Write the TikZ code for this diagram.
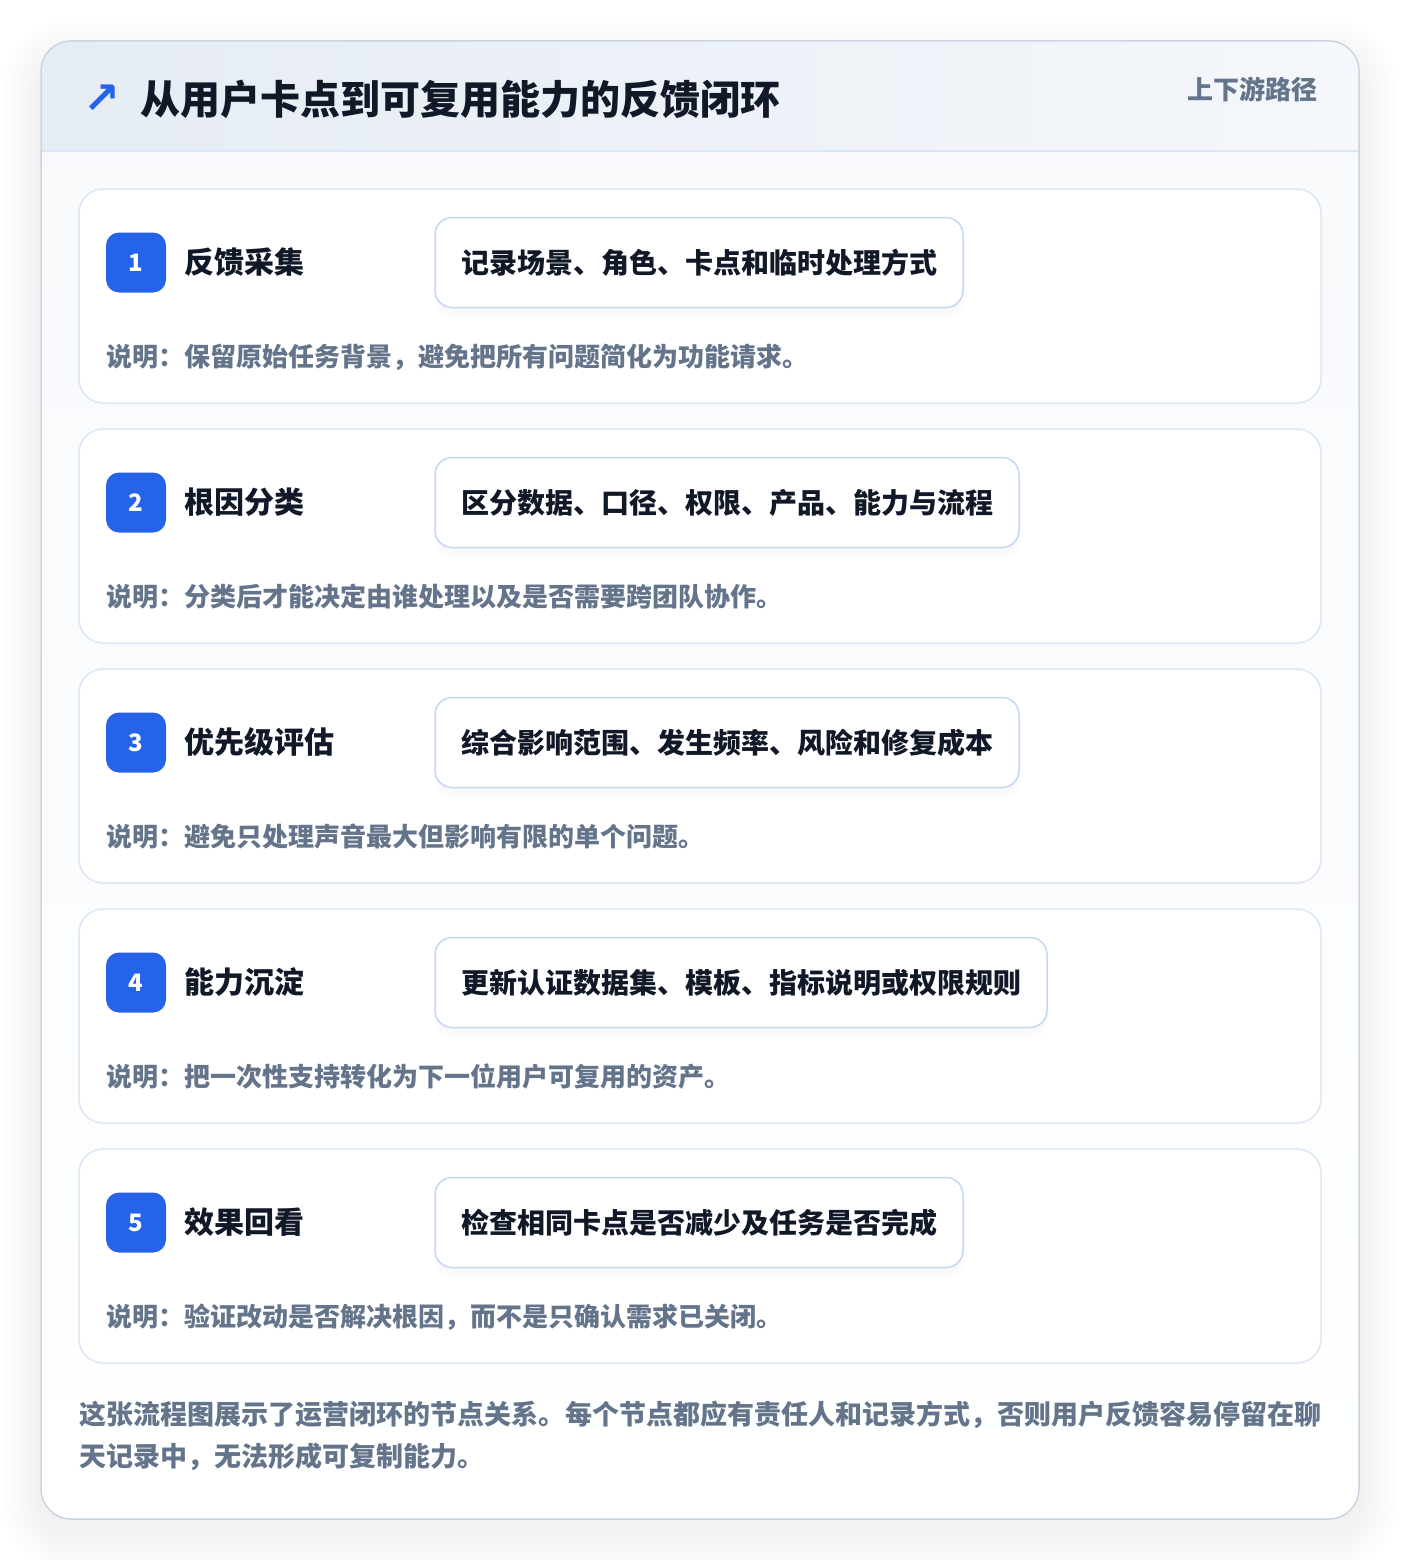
\documentclass[tikz,border=0pt]{standalone}
\usepackage{fontspec}
\setmainfont{Noto Sans CJK SC}
\newfontfamily\symfont{DejaVu Sans}
\usetikzlibrary{shapes, calc, positioning, shadows}

\definecolor{inkdark}{HTML}{111827}
\definecolor{inkgray}{HTML}{64748B}
\definecolor{badgeblue}{HTML}{2563EB}
\definecolor{cardline}{HTML}{DCE7F5}
\definecolor{pillline}{HTML}{C2D7F2}
\definecolor{panelline}{HTML}{CBD5E1}
\definecolor{bodybg}{HTML}{F7F9FC}
\definecolor{headleft}{HTML}{E6ECF4}
\definecolor{headright}{HTML}{F4F7FB}

\tikzset{
    panel/.style={
           rectangle,
           rounded corners=30pt,
           minimum width=1318pt,
           minimum height=1478pt,
           outer sep=0pt,
           },
    card/.style={
           rectangle,
           rounded corners=24pt,
           draw=cardline, line width=1.5pt,
           fill=white,
           minimum width=1242pt,
           minimum height=214pt,
           outer sep=0pt,
           },
    badge/.style={
           rectangle,
           rounded corners=13pt,
           fill=badgeblue,
           text=white,
           minimum width=60pt,
           minimum height=60pt,
           outer sep=0pt,
           font=\fontsize{24}{24}\selectfont\bfseries,
           },
    steptitle/.style={
           inner sep=0pt,
           text=inkdark,
           font=\fontsize{30}{30}\selectfont\bfseries,
           },
    pill/.style={
           rectangle,
           rounded corners=17pt,
           draw=pillline, line width=1.5pt,
           fill=white,
           drop shadow={opacity=0.015, shadow xshift=0pt, shadow yshift=-4pt},
           drop shadow={opacity=0.015, shadow xshift=0pt, shadow yshift=-8pt},
           drop shadow={opacity=0.015, shadow xshift=0pt, shadow yshift=-12pt},
           minimum height=90pt,
           inner xsep=26pt,
           outer sep=0pt,
           text=inkdark,
           font=\fontsize{28}{28}\selectfont\bfseries,
           },
    note/.style={
           inner sep=0pt,
           text=inkgray,
           font=\fontsize{26}{26}\selectfont\bfseries,
           },
}

\begin{document}
\begin{tikzpicture}[x=1pt, y=1pt, node distance=26pt]

 \useasboundingbox (0,0) rectangle (1400,-1560);
 \fill[white] (0,0) rectangle (1400,-1560);

 % soft shadow under the panel
 \foreach \s in {3,6,...,39} {
  \pgfmathsetmacro{\rr}{30+\s}
  \fill[black, opacity=0.0055, rounded corners=\rr pt]
   (41-\s, -57+\s) rectangle (1359+\s, -1533-\s);
 }

 \node[panel, top color=bodybg, bottom color=white] (PANEL) at (700,-780) {};

 \begin{scope}
  \clip[rounded corners=30pt] (PANEL.north west) rectangle (PANEL.south east);
  \shade[left color=headleft, right color=headright]
   (PANEL.north west) rectangle ($(PANEL.north east)+(0,-110)$);
 \end{scope}
 \draw[cardline, line width=1.5pt]
  ($(PANEL.north west)+(0,-110)$) -- ($(PANEL.north east)+(0,-110)$);
 \draw[panelline, line width=1.5pt, rounded corners=30pt]
  (PANEL.north west) rectangle (PANEL.south east);

 \node[text=badgeblue, inner sep=0pt,
  font=\fontsize{44}{44}\symfont\bfseries] (ICON) at (102,-99)
 {%
  ↗
 };

 \node[steptitle,
  anchor=west,
  font=\fontsize{40}{40}\selectfont\bfseries] (HEADTITLE) at (140,-99)
 {%
  从用户卡点到可复用能力的反馈闭环
 };

 \node[note,
  anchor=east] (HEADTAG) at (1318,-89)
 {%
  上下游路径
 };

 % step 1
 \node[card] (CARD_1) at (700,-296) {};
 \node[badge, right=27pt of CARD_1.west, yshift=33.5pt] (BADGE_1) {1};
 \node[steptitle, right=18pt of BADGE_1] (TITLE_1) {反馈采集};
 \node[pill, right=269pt of BADGE_1] (PILL_1) {记录场景、角色、卡点和临时处理方式};
 \node[note, below=64.5pt of BADGE_1.south west, anchor=west] (NOTE_1)
  {说明：保留原始任务背景，避免把所有问题简化为功能请求。};

 % step 2
 \node[card, below=of CARD_1] (CARD_2) {};
 \node[badge, right=27pt of CARD_2.west, yshift=33.5pt] (BADGE_2) {2};
 \node[steptitle, right=18pt of BADGE_2] (TITLE_2) {根因分类};
 \node[pill, right=269pt of BADGE_2] (PILL_2) {区分数据、口径、权限、产品、能力与流程};
 \node[note, below=64.5pt of BADGE_2.south west, anchor=west] (NOTE_2)
  {说明：分类后才能决定由谁处理以及是否需要跨团队协作。};

 % step 3
 \node[card, below=of CARD_2] (CARD_3) {};
 \node[badge, right=27pt of CARD_3.west, yshift=33.5pt] (BADGE_3) {3};
 \node[steptitle, right=18pt of BADGE_3] (TITLE_3) {优先级评估};
 \node[pill, right=269pt of BADGE_3] (PILL_3) {综合影响范围、发生频率、风险和修复成本};
 \node[note, below=64.5pt of BADGE_3.south west, anchor=west] (NOTE_3)
  {说明：避免只处理声音最大但影响有限的单个问题。};

 % step 4
 \node[card, below=of CARD_3] (CARD_4) {};
 \node[badge, right=27pt of CARD_4.west, yshift=33.5pt] (BADGE_4) {4};
 \node[steptitle, right=18pt of BADGE_4] (TITLE_4) {能力沉淀};
 \node[pill, right=269pt of BADGE_4] (PILL_4) {更新认证数据集、模板、指标说明或权限规则};
 \node[note, below=64.5pt of BADGE_4.south west, anchor=west] (NOTE_4)
  {说明：把一次性支持转化为下一位用户可复用的资产。};

 % step 5
 \node[card, below=of CARD_4] (CARD_5) {};
 \node[badge, right=27pt of CARD_5.west, yshift=33.5pt] (BADGE_5) {5};
 \node[steptitle, right=18pt of BADGE_5] (TITLE_5) {效果回看};
 \node[pill, right=269pt of BADGE_5] (PILL_5) {检查相同卡点是否减少及任务是否完成};
 \node[note, below=64.5pt of BADGE_5.south west, anchor=west] (NOTE_5)
  {说明：验证改动是否解决根因，而不是只确认需求已关闭。};

 % closing remark
 \node[note,
  below=38pt of CARD_5.south west,
  anchor=north west,
  align=left,
  font=\fontsize{27}{42}\selectfont\bfseries] (FOOTNOTE)
 {%
  这张流程图展示了运营闭环的节点关系。每个节点都应有责任人和记录方式，否则用户反馈容易停留在聊\\
  天记录中，无法形成可复制能力。
 };

\end{tikzpicture}
\end{document}
